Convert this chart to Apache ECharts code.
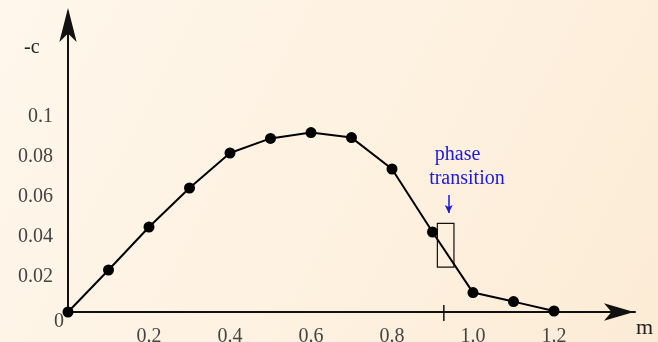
<!DOCTYPE html>
<html><head><meta charset="utf-8">
<script src="https://cdn.jsdelivr.net/npm/echarts@6/dist/echarts.min.js"></script>
<style>html,body{margin:0;padding:0;}#c{width:658px;height:342px;}</style>
</head><body><div id="c"></div>
<script>
// data
const mValues = [0, 0.1, 0.2, 0.3, 0.4, 0.5, 0.6, 0.7, 0.8, 0.9, 1.0, 1.1, 1.2];
const cValues = [0, 0.021, 0.0425, 0.062, 0.0795, 0.0868, 0.0897, 0.0872, 0.0715, 0.040, 0.0097, 0.0052, 0.0005];
const xTickLabels = ['0.2', '0.4', '0.6', '0.8', '1.0', '1.2'];
const yTickLabels = ['0.02', '0.04', '0.06', '0.08', '0.1'];
const originLabel = '0';
const transitionM = 0.928;
const transitionTickC = [-0.0045, 0.0035];
const boxM = [0.912, 0.953];
const boxC = [0.0224, 0.0443];
const arrowM = 0.94;
const arrowC = [0.0585, 0.0495];
const noteLines = ['phase', 'transition'];
const notePos = [[0.962, 0.0785], [0.985, 0.0665]];

const serif = '"Liberation Serif", "DejaVu Serif", serif';
const chart = echarts.init(document.getElementById('c'));
const fmt = v => Number(v.toFixed(2)).toString();
chart.setOption({
  animation: false,
  backgroundColor: {type: 'linear', x: 0, y: 0, x2: 1, y2: 1,
    colorStops: [{offset: 0, color: '#fff7ec'}, {offset: 1, color: '#fcecd6'}]},
  grid: {left: 68, top: 12, width: 567, height: 300, outerBoundsMode: 'none', containLabel: false},
  xAxis: {
    type: 'value', min: 0, max: 1.4, interval: 0.2,
    axisLine: {lineStyle: {color: '#111', width: 2}, symbol: ['none', 'arrow'], symbolSize: [13, 30], symbolOffset: [0, -1]},
    axisTick: {show: false}, splitLine: {show: false},
    axisLabel: {margin: 15, color: '#444', fontFamily: serif, fontSize: 20,
      formatter: v => { const s = v.toFixed(1); return xTickLabels.includes(s) ? s : ''; }}
  },
  yAxis: {
    type: 'value', min: 0, max: 0.15, interval: 0.02,
    axisLine: {lineStyle: {color: '#111', width: 2}, symbol: ['none', 'arrow'], symbolSize: [13, 34], symbolOffset: [0, 4]},
    axisTick: {show: false}, splitLine: {show: false},
    axisLabel: {margin: 15, color: '#444', fontFamily: serif, fontSize: 20,
      formatter: v => { const s = fmt(v); return yTickLabels.includes(s) ? '{a|' + s + '}' : ''; },
      rich: {a: {fontFamily: serif, fontSize: 20, color: '#444', padding: [10, 0, 0, 0]}}}
  },
  graphic: [
    {type: 'text', left: 24, top: 38, style: {text: '-c', font: '20px ' + serif, fill: '#222'}},
    {type: 'text', left: 636, top: 317, style: {text: 'm', font: '22px ' + serif, fill: '#222'}},
    {type: 'text', left: 54, top: 312, style: {text: originLabel, font: '20px ' + serif, fill: '#444'}}
  ],
  series: [{
    type: 'line',
    clip: false,
    data: mValues.map((m, i) => [m, cValues[i]]),
    symbol: 'circle', symbolSize: 11,
    itemStyle: {color: '#000'},
    lineStyle: {color: '#000', width: 2},
    z: 5,
    markLine: {
      silent: true, symbol: 'none', animation: false,
      data: [
        [{coord: [arrowM, arrowC[0]], symbol: 'none', lineStyle: {color: '#1a1ad8', width: 1.5, type: 'solid'}},
         {coord: [arrowM, arrowC[1]], symbol: 'arrow', symbolSize: [6, 8]}]
      ],
      label: {show: false}
    },
    markArea: {
      silent: true,
      itemStyle: {color: 'rgba(0,0,0,0)', borderColor: '#111', borderWidth: 1.2},
      data: [[{coord: [boxM[0], boxC[1]]}, {coord: [boxM[1], boxC[0]]}]]
    },
    markPoint: {
      silent: true, symbol: 'circle', symbolSize: 0,
      data: noteLines.map((t, i) => ({coord: notePos[i], value: t,
        label: {show: true, formatter: t, color: '#1a1ad8', fontFamily: serif, fontSize: 20, position: 'inside'}}))
    }
  }, {
    type: 'line',
    clip: false,
    silent: true,
    symbol: 'none',
    data: transitionTickC.map(c => [transitionM, c]),
    lineStyle: {color: '#111', width: 1.5}
  }]
});
</script></body></html>
